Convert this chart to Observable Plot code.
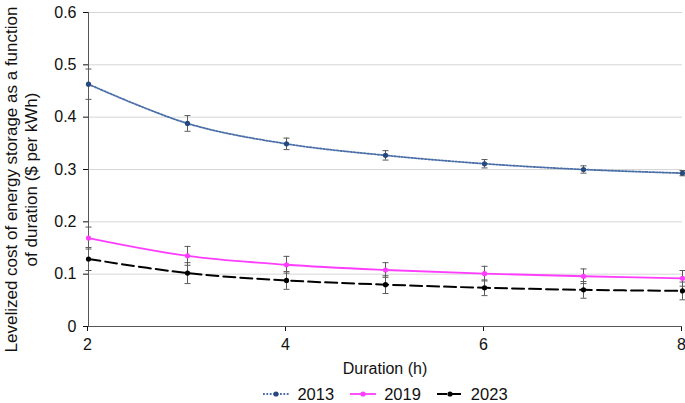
<!DOCTYPE html>
<html>
<head>
<meta charset="utf-8">
<script src="https://cdn.jsdelivr.net/npm/d3@7"></script>
<script src="https://cdn.jsdelivr.net/npm/@observablehq/plot@0.6"></script>
<style>
  html, body { margin: 0; padding: 0; background: #fff; }
  body { width: 685px; height: 403px; overflow: hidden; font-family: "Liberation Sans", Arial, sans-serif; }
  #chart svg { display: block; }
  #xlabel { height: 32px; line-height: 32px; font-size: 16px; color: #111; text-align: center; margin-left: 85px; }
  #legend { display: flex; justify-content: center; align-items: center; gap: 16px; font-size: 16.5px; color: #111; height: 18px; line-height: 18px; margin-left: 86px; }
  #legend .item { display: flex; align-items: center; gap: 8px; }
</style>
</head>
<body>
<div id="chart"></div>
<div id="xlabel">Duration (h)</div>
<div id="legend"></div>
<script>
const durations = [2, 3, 4, 5, 6, 7, 8];
const years = ["2013", "2019", "2023"];
const cost2013 = [0.463, 0.388, 0.349, 0.327, 0.311, 0.300, 0.293];
const err2013  = [0.029, 0.015, 0.011, 0.009, 0.008, 0.007, 0.005];
const cost2019 = [0.169, 0.135, 0.118, 0.108, 0.101, 0.096, 0.092];
const err2019  = [0.021, 0.018, 0.016, 0.014, 0.014, 0.014, 0.015];
const cost2023 = [0.129, 0.102, 0.088, 0.080, 0.074, 0.070, 0.068];
const err2023  = [0.022, 0.020, 0.017, 0.017, 0.015, 0.016, 0.017];
const yTicks = [0, 0.1, 0.2, 0.3, 0.4, 0.5, 0.6];
const xTicks = [2, 4, 6, 8];

const styles = {
  "2013": {line: "#4a6fa8", dot: "#264a7e", width: 1.8, dash: "1.8,1.6"},
  "2019": {line: "#ff3dff", dot: "#ff3dff", width: 1.8, dash: null},
  "2023": {line: "#000000", dot: "#000000", width: 2, dash: "12,5"}
};

function series(year, vals, errs) {
  return durations.map((d, i) => ({year, x: d, y: vals[i], lo: vals[i] - errs[i], hi: vals[i] + errs[i]}));
}
const data = [
  ...series("2013", cost2013, err2013),
  ...series("2019", cost2019, err2019),
  ...series("2023", cost2023, err2023)
];

const capSymbol = { draw(ctx, size) { const w = 3; ctx.moveTo(-w, 0); ctx.lineTo(w, 0); } };

const height = 353;
const marks = [
  Plot.ruleY(yTicks.filter(t => t > 0), {stroke: "#d6d6d6", strokeWidth: 1}),
  Plot.axisY({ticks: yTicks, tickSize: 5, tickPadding: 7, fontSize: 16, tickFormat: d => d === 0 ? "0" : d.toFixed(1), label: null}),
  Plot.axisX({ticks: xTicks, tickSize: 5, tickPadding: 7, fontSize: 16, dx: -1, tickFormat: d => String(d), label: null}),
  Plot.ruleX([2], {stroke: "#555", strokeWidth: 1}),
  Plot.ruleY([0], {stroke: "#555", strokeWidth: 1})
];
for (const yr of years) {
  const s = styles[yr];
  const d = data.filter(r => r.year === yr);
  marks.push(Plot.line(d, {x: "x", y: "y", stroke: s.line, strokeWidth: s.width, strokeDasharray: s.dash, curve: "catmull-rom"}));
}
marks.push(
  Plot.ruleX(data, {x: "x", y1: "lo", y2: "hi", stroke: "#5a5a5a", strokeWidth: 1}),
  Plot.dot(data, {x: "x", y: "lo", symbol: capSymbol, r: 3, stroke: "#5a5a5a", strokeWidth: 1, fill: "none"}),
  Plot.dot(data, {x: "x", y: "hi", symbol: capSymbol, r: 3, stroke: "#5a5a5a", strokeWidth: 1, fill: "none"})
);
for (const yr of years) {
  const s = styles[yr];
  const d = data.filter(r => r.year === yr);
  marks.push(Plot.dot(d, {x: "x", y: "y", r: 2.6, fill: s.dot, stroke: "none"}));
}
marks.push(
  Plot.text(["Levelized cost of energy storage as a function\nof duration ($ per kWh)"], {frameAnchor: "left", rotate: -90, dx: -68, dy: 10, fontSize: 17, lineHeight: 1.2, fill: "#111", lineAnchor: "middle", textAnchor: "middle"})
);

const chart = Plot.plot({
  width: 685,
  height,
  marginLeft: 88,
  marginRight: 3,
  marginTop: 12,
  marginBottom: height - 326,
  x: {domain: [2, 8]},
  y: {domain: [0, 0.6]},
  style: {fontFamily: "'Liberation Sans', Arial, sans-serif", fontSize: "16px", color: "#111", overflow: "visible"},
  marks
});
document.getElementById("chart").appendChild(chart);

const legend = document.getElementById("legend");
for (const yr of years) {
  const s = styles[yr];
  const item = document.createElement("div");
  item.className = "item";
  const w = 26;
  item.innerHTML = `<svg width="${w}" height="10"><line x1="0" x2="${w}" y1="5" y2="5" stroke="${s.line}" stroke-width="${s.width}" ${s.dash ? `stroke-dasharray="${yr === "2023" ? "10,4" : s.dash}"` : ""}/><circle cx="${w/2}" cy="5" r="2.6" fill="${s.dot}"/></svg><span>${yr}</span>`;
  legend.appendChild(item);
}
</script>
</body>
</html>
